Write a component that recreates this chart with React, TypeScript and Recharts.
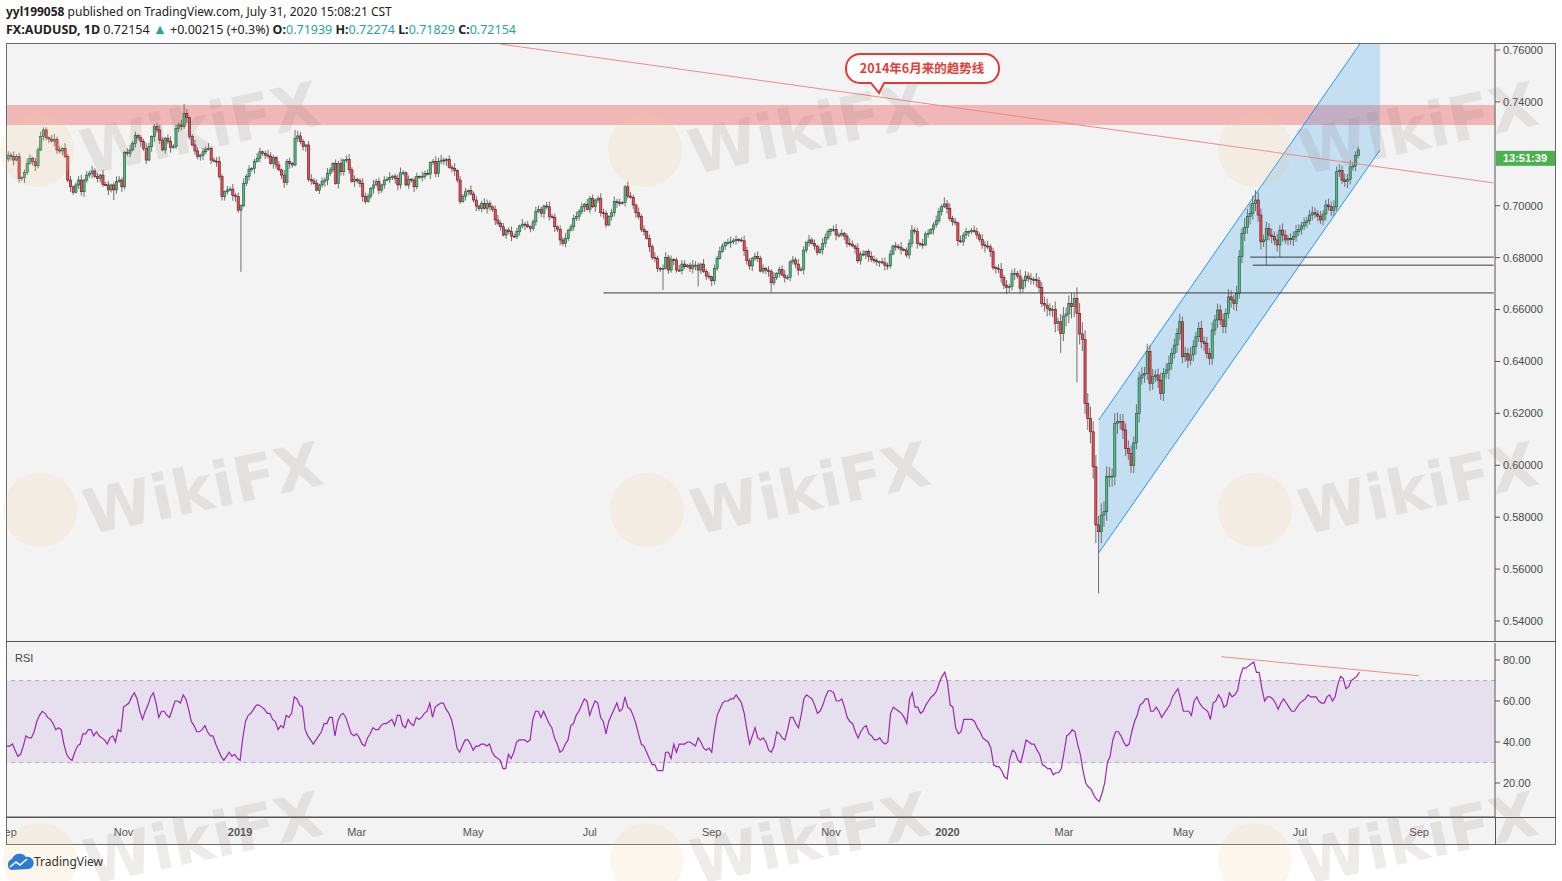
import React from "react";
import {
  ComposedChart,
  Bar,
  Line,
  Area,
  XAxis,
  YAxis,
  ReferenceLine,
  ReferenceArea,
} from "recharts";

// AUDUSD daily closes in 1/10000, 3 Sep 2018 .. 31 Jul 2020 (one per weekday)
const CLOSES = [
  7195, 7189, 7176, 7189, 7105, 7108, 7129, 7163, 7183, 7170,
  7154, 7215, 7266, 7292, 7262, 7257, 7249, 7256, 7215, 7211,
  7221, 7189, 7099, 7073, 7052, 7080, 7099, 7054, 7099, 7118,
  7125, 7134, 7112, 7105, 7118, 7082, 7080, 7061, 7080, 7061,
  7093, 7099, 7073, 7206, 7202, 7215, 7240, 7270, 7262, 7247,
  7221, 7176, 7228, 7266, 7305, 7292, 7253, 7215, 7260, 7247,
  7224, 7228, 7298, 7311, 7305, 7356, 7339, 7266, 7234, 7211,
  7189, 7195, 7208, 7218, 7221, 7176, 7172, 7170, 7112, 7035,
  7054, 7061, 7064, 7039, 7035, 6983, 7000, 7085, 7112, 7140,
  7144, 7170, 7183, 7208, 7202, 7195, 7191, 7163, 7186, 7157,
  7138, 7118, 7089, 7170, 7163, 7157, 7260, 7269, 7247, 7228,
  7234, 7102, 7096, 7086, 7060, 7080, 7093, 7099, 7125, 7138,
  7163, 7086, 7163, 7131, 7176, 7179, 7138, 7093, 7102, 7096,
  7086, 7035, 7016, 7037, 7067, 7080, 7093, 7060, 7080, 7099,
  7102, 7109, 7114, 7105, 7080, 7127, 7127, 7080, 7102, 7099,
  7073, 7112, 7109, 7112, 7125, 7122, 7166, 7170, 7125, 7170,
  7176, 7173, 7179, 7148, 7144, 7135, 7099, 7016, 7035, 7054,
  7058, 7045, 7022, 6999, 6990, 7009, 6990, 7009, 6996, 6986,
  6945, 6932, 6919, 6887, 6906, 6900, 6883, 6881, 6900, 6922,
  6929, 6926, 6919, 6913, 6938, 6977, 6986, 6971, 6999, 6996,
  6958, 6955, 6919, 6909, 6868, 6855, 6874, 6906, 6919, 6951,
  6958, 6977, 6996, 7006, 6986, 7028, 6996, 7022, 7028, 6973,
  6971, 6926, 6958, 6973, 7016, 7012, 7009, 7012, 7073, 7037,
  7032, 7003, 6973, 6958, 6909, 6900, 6874, 6842, 6801, 6797,
  6759, 6755, 6759, 6801, 6752, 6793, 6791, 6752, 6750, 6775,
  6765, 6771, 6759, 6771, 6771, 6752, 6775, 6746, 6729, 6726,
  6711, 6759, 6797, 6823, 6845, 6858, 6858, 6861, 6865, 6870,
  6868, 6865, 6827, 6788, 6768, 6797, 6804, 6797, 6748, 6759,
  6752, 6746, 6703, 6724, 6739, 6755, 6733, 6724, 6724, 6784,
  6791, 6775, 6752, 6755, 6829, 6858, 6868, 6855, 6845, 6819,
  6832, 6855, 6878, 6900, 6909, 6909, 6887, 6887, 6894, 6883,
  6855, 6852, 6845, 6836, 6788, 6814, 6810, 6823, 6804, 6793,
  6788, 6784, 6784, 6780, 6771, 6768, 6814, 6845, 6842, 6840,
  6832, 6829, 6810, 6855, 6906, 6900, 6855, 6852, 6849, 6891,
  6894, 6909, 6926, 6942, 6977, 6996, 7007, 6990, 6951, 6938,
  6934, 6865, 6861, 6887, 6900, 6900, 6904, 6900, 6887, 6870,
  6849, 6845, 6842, 6823, 6762, 6759, 6755, 6724, 6694, 6685,
  6688, 6739, 6739, 6729, 6682, 6711, 6729, 6720, 6716, 6716,
  6711, 6685, 6624, 6617, 6604, 6596, 6601, 6547, 6553, 6508,
  6575, 6583, 6624, 6611, 6643, 6585, 6506, 6485, 6238, 6181,
  6129, 5994, 5770, 5744, 5808, 5821, 5956, 5958, 5958, 6161,
  6168, 6168, 6136, 6065, 6046, 6000, 6086, 6200, 6336, 6348,
  6354, 6438, 6316, 6341, 6348, 6328, 6277, 6354, 6367, 6393,
  6431, 6463, 6508, 6553, 6418, 6431, 6405, 6425, 6457, 6495,
  6527, 6476, 6470, 6431, 6412, 6521, 6560, 6598, 6560, 6534,
  6585, 6649, 6637, 6624, 6662, 6804, 6894, 6917, 6958, 6971,
  7009, 7022, 6964, 6861, 6868, 6913, 6887, 6881, 6868, 6849,
  6906, 6887, 6868, 6874, 6870, 6881, 6900, 6909, 6922, 6935,
  6942, 6964, 6973, 6968, 6960, 6945, 6968, 7003, 6996, 6981,
  6996, 7131, 7135, 7099, 7093, 7102, 7150, 7153, 7194, 7215,
];
const FIRST_OPEN = 7180;

// wick lengths above / below the body, one digit per day, in 5-pip steps
const WICK_UP = [
  "3242312431", "3242213423", "1423123413", "2423142312", "4321342312",
  "2431234213", "4231423124", "3132412342", "1324231423", "1243124321",
  "3142312432", "1342313242", "1324134231", "2432142313", "2412342131",
  "2314231243", "4213241323", "1423124321", "3423124231", "4231243213",
  "4231324123", "4231423124", "3213423124", "3214231324", "2134231243",
  "3124321423", "1324213423", "1243213423", "1324123421", "3242314231",
  "2432134231", "2431423124", "3213423132", "4123423142", "3124321342",
  "3142312432", "4342313524", "2342524342", "5345543636", "7568978978",
  "9897988768", "7665665756", "5656456456", "4546454654", "5645464545",
  "4654654767", "6565454545", "4543445434", "3454343454", "5454545332",
].join("");
const WICK_DN = [
  "2341324213", "4213231432", "3124213342", "2413321423", "3142231324",
  "2314423132", "4123324213", "2342131423", "3214423123", "2413232143",
  "1342421323", "4231132442", "2143323142", "3421241323", "1324432132",
  "4213214233", "2341342213", "3124231432", "4231324123", "2413231342",
  "3142423213", "2324131423", "4213342132", "1342231423", "3241324213",
  "2134423132", "4321132423", "2143342312", "3412231423", "2341423132",
  "1432324213", "3214231342", "2341432132", "4123324231", "3142231423",
  "2413342132", "3524243435", "4352435344", "5435645767", "6879898989",
  "9989797887", "8676566575", "6565465647", "5465546456", "4564554645",
  "5465645656", "5656454545", "4534454343", "4343434534", "4343454342",
].join("");
// the long shadows
const HIGH_FIX: Record<number, number> = {
  63: 7320, 65: 7392, 66: 7372, 106: 7292, 228: 7080, 346: 7032,
  394: 6662, 395: 6685, 461: 7060, 499: 7227,
};
const LOW_FIX: Record<number, number> = {
  39: 7022, 86: 6745, 242: 6675, 255: 6690, 260: 6690, 282: 6667,
  389: 6432, 395: 6320, 402: 5700, 403: 5506, 404: 5700, 465: 6771,
  470: 6803, 499: 7183,
};

// RSI(14), one per day
const RSI = [
  38, 38, 39, 36, 33, 34, 38, 43, 42, 42,
  45, 50, 53, 55, 54, 52, 51, 49, 46, 47,
  46, 39, 34, 32, 31, 35, 38, 39, 44, 44,
  46, 46, 43, 45, 43, 42, 41, 39, 42, 43,
  40, 46, 45, 57, 58, 59, 62, 64, 61, 55,
  51, 55, 58, 62, 64, 59, 52, 55, 55, 53,
  52, 56, 60, 60, 59, 63, 61, 56, 50, 48,
  45, 45, 46, 48, 45, 43, 43, 39, 36, 33,
  31, 33, 35, 33, 34, 32, 31, 42, 50, 53,
  54, 56, 58, 58, 57, 56, 54, 54, 51, 50,
  46, 48, 47, 53, 52, 54, 62, 61, 58, 57,
  46, 43, 41, 39, 41, 43, 45, 49, 49, 52,
  52, 43, 50, 53, 54, 52, 48, 44, 43, 44,
  42, 39, 38, 42, 44, 47, 46, 46, 48, 49,
  49, 50, 51, 48, 53, 53, 48, 47, 51, 49,
  48, 52, 51, 52, 54, 55, 59, 52, 57, 58,
  59, 59, 56, 54, 51, 45, 37, 35, 38, 41,
  41, 39, 36, 38, 38, 39, 39, 38, 39, 35,
  33, 32, 31, 27, 27, 34, 32, 35, 40, 41,
  41, 41, 40, 41, 51, 55, 55, 52, 55, 52,
  49, 47, 42, 39, 35, 36, 39, 41, 48, 49,
  53, 55, 58, 61, 60, 53, 57, 60, 59, 52,
  50, 44, 50, 53, 56, 59, 55, 56, 62, 57,
  56, 53, 49, 44, 39, 38, 35, 32, 29, 29,
  26, 26, 26, 35, 35, 32, 39, 35, 39, 39,
  39, 40, 40, 39, 38, 42, 40, 37, 36, 37,
  35, 45, 53, 56, 59, 60, 60, 61, 61, 63,
  61, 59, 54, 46, 39, 43, 47, 42, 41, 42,
  40, 36, 35, 38, 45, 44, 42, 41, 46, 52,
  52, 49, 47, 53, 61, 63, 62, 61, 58, 54,
  55, 58, 62, 65, 65, 64, 60, 60, 61, 57,
  52, 50, 49, 45, 42, 45, 47, 48, 44, 43,
  41, 41, 42, 40, 39, 40, 54, 57, 56, 55,
  54, 52, 49, 61, 64, 57, 57, 54, 55, 58,
  60, 62, 63, 65, 69, 72, 74, 69, 58, 57,
  47, 44, 45, 51, 51, 51, 51, 50, 47, 45,
  42, 41, 40, 37, 29, 28, 28, 26, 23, 22,
  32, 36, 35, 31, 30, 35, 41, 40, 39, 39,
  36, 34, 29, 28, 27, 27, 24, 25, 25, 27,
  35, 43, 44, 46, 45, 39, 34, 26, 20, 18,
  17, 14, 12, 11, 15, 20, 30, 33, 41, 45,
  45, 43, 40, 38, 39, 45, 50, 53, 58, 59,
  61, 61, 55, 55, 57, 55, 52, 54, 56, 58,
  62, 64, 66, 61, 55, 55, 55, 53, 60, 62,
  59, 57, 56, 55, 51, 59, 60, 63, 61, 57,
  58, 64, 62, 63, 65, 72, 76, 76, 77, 78,
  79, 74, 74, 66, 60, 62, 62, 61, 59, 56,
  59, 61, 59, 57, 55, 55, 57, 59, 60, 61,
  63, 62, 62, 62, 60, 59, 59, 62, 63, 60,
  62, 68, 72, 71, 66, 67, 70, 71, 72, 74,
];

const TICK_DATES = [
  "2018-09-03", "2018-11-01", "2019-01-01", "2019-03-01", "2019-05-01", "2019-07-01",
  "2019-09-02", "2019-11-01", "2020-01-01", "2020-03-02", "2020-05-01", "2020-07-01", "2020-09-01",
];
const TICK_LABELS = ["Sep", "Nov", "2019", "Mar", "May", "Jul", "Sep", "Nov", "2020", "Mar", "May", "Jul", "Sep"];
// 0.72000 sits under the last-price label, so it is not shown
const PRICE_TICKS = [0.54, 0.56, 0.58, 0.6, 0.62, 0.64, 0.66, 0.68, 0.7, 0.74, 0.76];
const RSI_TICKS = [20, 40, 60, 80];

// drawings on the chart, as (day index, value)
const RESIST_ZONE = [0.7311, 0.7388];
const TREND_2014 = [[182, 0.76227], [549, 0.70879]];
const SUPPORTS = [[220, 0.6664], [459, 0.6802], [460, 0.6771]];
const CHANNEL = [[403, 0.5662, 0.6174], [507, 0.7215, 0.7735]];
const RSI_TREND = [[448, 81.6], [521, 72.3]];
const LAST_PRICE = 0.72154;

const SLOTS = 550;
const DAYS: string[] = [];
for (let t = Date.UTC(2018, 8, 3); DAYS.length < SLOTS; t += 864e5) {
  const wd = new Date(t).getUTCDay();
  if (wd > 0 && wd < 6) DAYS.push(new Date(t).toISOString().slice(0, 10));
}

const rows = DAYS.map((d, i) => {
  const row: any = { d };
  if (i < CLOSES.length) {
    const c = CLOSES[i];
    const o = i === 0 ? FIRST_OPEN : CLOSES[i - 1];
    const hi = Math.max(HIGH_FIX[i] ?? Math.max(o, c) + 5 * Number(WICK_UP[i] ?? 2), o, c);
    const lo = Math.min(LOW_FIX[i] ?? Math.min(o, c) - 5 * Number(WICK_DN[i] ?? 2), o, c);
    row.o = o / 1e4;
    row.c = c / 1e4;
    row.candle = [lo / 1e4, hi / 1e4];
    row.rsi = RSI[i];
  }
  CHANNEL.forEach(([k, lo, hi]) => {
    if (k === i) row.channel = [lo, hi];
  });
  return row;
});

const AXIS_FONT = "Liberation Sans, Arial, sans-serif";
const TEAL = "#26a69a";
const BG = "#f3f3f3";

function Candle(props: any) {
  const { x, y, width, height, payload } = props;
  if (!payload || !payload.candle || !isFinite(y) || !isFinite(height)) return <g />;
  const [lo, hi] = payload.candle;
  const top = Math.min(y, y + height);
  const h = Math.abs(height);
  const k = hi > lo ? h / (hi - lo) : 0;
  const yo = top + (hi - payload.o) * k;
  const yc = top + (hi - payload.c) * k;
  const up = payload.c >= payload.o;
  const cx = x + width / 2;
  const bt = Math.min(yo, yc);
  const bh = Math.max(1, Math.abs(yo - yc));
  return (
    <g>
      <line x1={cx} x2={cx} y1={top} y2={top + h} stroke="#6f6f72" strokeWidth={1} />
      <rect
        x={cx - 1.1}
        y={bt}
        width={2.2}
        height={bh}
        fill={up ? "#53b987" : "#eb4d5c"}
        stroke={up ? "#225437" : "#5b1a13"}
        strokeWidth={0.6}
      />
    </g>
  );
}

function DateTick(props: any) {
  const { x, y, payload } = props;
  const label = TICK_LABELS[TICK_DATES.indexOf(payload.value)] ?? "";
  return (
    <text
      x={x}
      y={y}
      dy={11}
      textAnchor="middle"
      fontSize={11}
      fontFamily={AXIS_FONT}
      fontWeight={/^\d{4}$/.test(label) ? 700 : 400}
      fill="#555"
    >
      {label}
    </text>
  );
}

function Countdown(props: any) {
  const vb = props.viewBox;
  if (!vb) return null;
  const x0 = vb.x + vb.width + 1;
  const y0 = vb.y + 1;
  return (
    <g>
      <rect x={x0} y={y0} width={59} height={15} fill="#4caf50" />
      <text x={x0 + 29} y={y0 + 11.5} textAnchor="middle" fontSize={11} fontWeight={700} fill="#fff" fontFamily={AXIS_FONT}>
        13:51:39
      </text>
    </g>
  );
}

const WATERMARKS = [
  [200, 128], [808, 128], [1418, 128],
  [203, 488], [810, 488], [1418, 488],
  [203, 838], [810, 838], [1418, 838],
];

export default function App() {
  const seg = (a: number[], b: number[]) => [
    { x: DAYS[a[0]], y: a[1] },
    { x: DAYS[b[0]], y: b[1] },
  ];
  return (
    <div style={{ position: "absolute", left: 0, top: 0, width: 1562, height: 881, background: "#fff", overflow: "hidden" }}>
      <div style={{ position: "absolute", left: 6, top: 4, font: '12px "Noto Sans", sans-serif', lineHeight: "16px", color: "#222", whiteSpace: "nowrap" }}>
        <b>yyl199058</b> published on TradingView.com, July 31, 2020 15:08:21 CST
      </div>
      <div style={{ position: "absolute", left: 6, top: 21, font: '12.5px "Noto Sans", sans-serif', lineHeight: "16px", color: "#222", whiteSpace: "nowrap" }}>
        <b>FX:AUDUSD, 1D</b> 0.72154 <span style={{ color: TEAL, fontSize: 14 }}>▲</span> +0.00215 (+0.3%) <b>O:</b>
        <span style={{ color: TEAL }}>0.71939</span> <b>H:</b>
        <span style={{ color: TEAL }}>0.72274</span> <b>L:</b>
        <span style={{ color: TEAL }}>0.71829</span> <b>C:</b>
        <span style={{ color: TEAL }}>0.72154</span>
      </div>

      <div style={{ position: "absolute", left: 6, top: 43, width: 1550, height: 802, background: BG }} />

      <div style={{ position: "absolute", left: 0, top: 0 }}>
        <ComposedChart width={1562} height={642} data={rows} margin={{ top: 44, right: 7, bottom: 1, left: 7 }}>
          <XAxis dataKey="d" hide />
          <YAxis
            orientation="right"
            width={60}
            domain={[0.53229, 0.76231]}
            allowDataOverflow
            ticks={PRICE_TICKS}
            interval={0}
            tickFormatter={(v) => Number(v).toFixed(5)}
            tick={{ fontSize: 11, fill: "#4a4a4a", fontFamily: AXIS_FONT }}
            tickSize={5}
            tickMargin={3}
            axisLine={{ stroke: "#555" }}
            tickLine={{ stroke: "#555" }}
          />
          <Bar dataKey="candle" shape={Candle} isAnimationActive={false} />
          <ReferenceArea y1={RESIST_ZONE[0]} y2={RESIST_ZONE[1]} fill="#ef7b7b" fillOpacity={0.5} stroke="none" ifOverflow="hidden" />
          <Area
            dataKey="channel"
            type="linear"
            connectNulls
            stroke="#2196f3"
            strokeWidth={1}
            fill="#2196f3"
            fillOpacity={0.22}
            dot={false}
            activeDot={false}
            isAnimationActive={false}
          />
          <ReferenceLine segment={seg(TREND_2014[0], TREND_2014[1])} stroke="#f08a84" strokeWidth={1} ifOverflow="hidden" />
          {SUPPORTS.map(([k, v], n) => (
            <ReferenceLine key={n} segment={seg([k, v], [SLOTS - 1, v])} stroke="#3a3a3a" strokeWidth={1} ifOverflow="hidden" />
          ))}
          <ReferenceLine y={LAST_PRICE} stroke="none" label={<Countdown />} />
        </ComposedChart>
      </div>

      <div style={{ position: "absolute", left: 0, top: 642 }}>
        <ComposedChart width={1562} height={203} data={rows} margin={{ top: 1, right: 7, bottom: 0, left: 7 }}>
          <XAxis
            dataKey="d"
            ticks={TICK_DATES}
            interval={0}
            tick={<DateTick />}
            tickLine={false}
            axisLine={{ stroke: "#555" }}
            height={28}
          />
          <YAxis
            orientation="right"
            width={60}
            domain={[3.41, 88.29]}
            allowDataOverflow
            ticks={RSI_TICKS}
            interval={0}
            tickFormatter={(v) => Number(v).toFixed(2)}
            tick={{ fontSize: 11, fill: "#4a4a4a", fontFamily: AXIS_FONT }}
            tickSize={5}
            tickMargin={3}
            axisLine={{ stroke: "#555" }}
            tickLine={{ stroke: "#555" }}
          />
          <ReferenceArea y1={30} y2={70} fill="#a070d0" fillOpacity={0.15} stroke="none" />
          <ReferenceLine y={70} stroke="#b4a9c6" strokeDasharray="4 4" />
          <ReferenceLine y={30} stroke="#b4a9c6" strokeDasharray="4 4" />
          <Line dataKey="rsi" type="linear" stroke="#9c27b0" strokeWidth={1.2} dot={false} activeDot={false} isAnimationActive={false} />
          <ReferenceLine segment={seg(RSI_TREND[0], RSI_TREND[1])} stroke="#f08a84" strokeWidth={1} ifOverflow="visible" />
        </ComposedChart>
      </div>

      {/* frame and pane separators */}
      <div style={{ position: "absolute", left: 0, top: 817, width: 6, height: 28, background: "#fff" }} />
      <div style={{ position: "absolute", left: 6, top: 43, width: 1550, height: 802, boxSizing: "border-box", border: "1px solid #6a6a6a" }} />
      <div style={{ position: "absolute", left: 6, top: 641, width: 1550, height: 1, background: "#555" }} />
      <div style={{ position: "absolute", left: 6, top: 817, width: 1550, height: 1, background: "#555" }} />
      <div style={{ position: "absolute", left: 1495, top: 817, width: 1, height: 28, background: "#555" }} />
      <div style={{ position: "absolute", left: 15, top: 652, font: `11px ${AXIS_FONT}`, color: "#444" }}>RSI</div>

      <svg width={1562} height={881} style={{ position: "absolute", left: 0, top: 0, pointerEvents: "none" }}>
        <path
          d="M860 54 H985 A14 14 0 0 1 999 68 V69 A14 14 0 0 1 985 83 H884 L879 93 L871 83 H860 A14 14 0 0 1 846 69 V68 A14 14 0 0 1 860 54 Z"
          fill="#fff"
          stroke="#e53935"
          strokeWidth={2}
        />
        <text x={922} y={72.5} textAnchor="middle" fontSize={12.5} fontWeight={700} fill="#e0403a" fontFamily='"Noto Sans CJK SC", "Noto Sans", sans-serif'>
          2014年6月来的趋势线
        </text>

        {WATERMARKS.map(([x, y], n) => (
          <g key={n}>
            <circle cx={x - 163} cy={y + 22} r={37} fill="#f2c889" fillOpacity={0.16} />
            <text
              x={x}
              y={y + 22}
              textAnchor="middle"
              fontSize={62}
              fontWeight={700}
              fontFamily='"DejaVu Sans", sans-serif'
              fill="#8a6f6f"
              fillOpacity={0.14}
              transform={`rotate(-12 ${x} ${y})`}
            >
              WikiFX
            </text>
          </g>
        ))}

        <g transform="translate(5 852)">
          <path d="M6 18 A6 6 0 0 1 7 7 A8 8 0 0 1 21 5 A6 6 0 0 1 24 17 Z" fill="#2e7bd6" />
          <path d="M5 15 L11 10 L15 13 L22 7" stroke="#fff" strokeWidth={1.6} fill="none" />
        </g>
        <text x={34} y={866} fontSize={12} fontFamily='"Noto Sans", sans-serif' fill="#333">
          TradingView
        </text>
      </svg>
    </div>
  );
}
